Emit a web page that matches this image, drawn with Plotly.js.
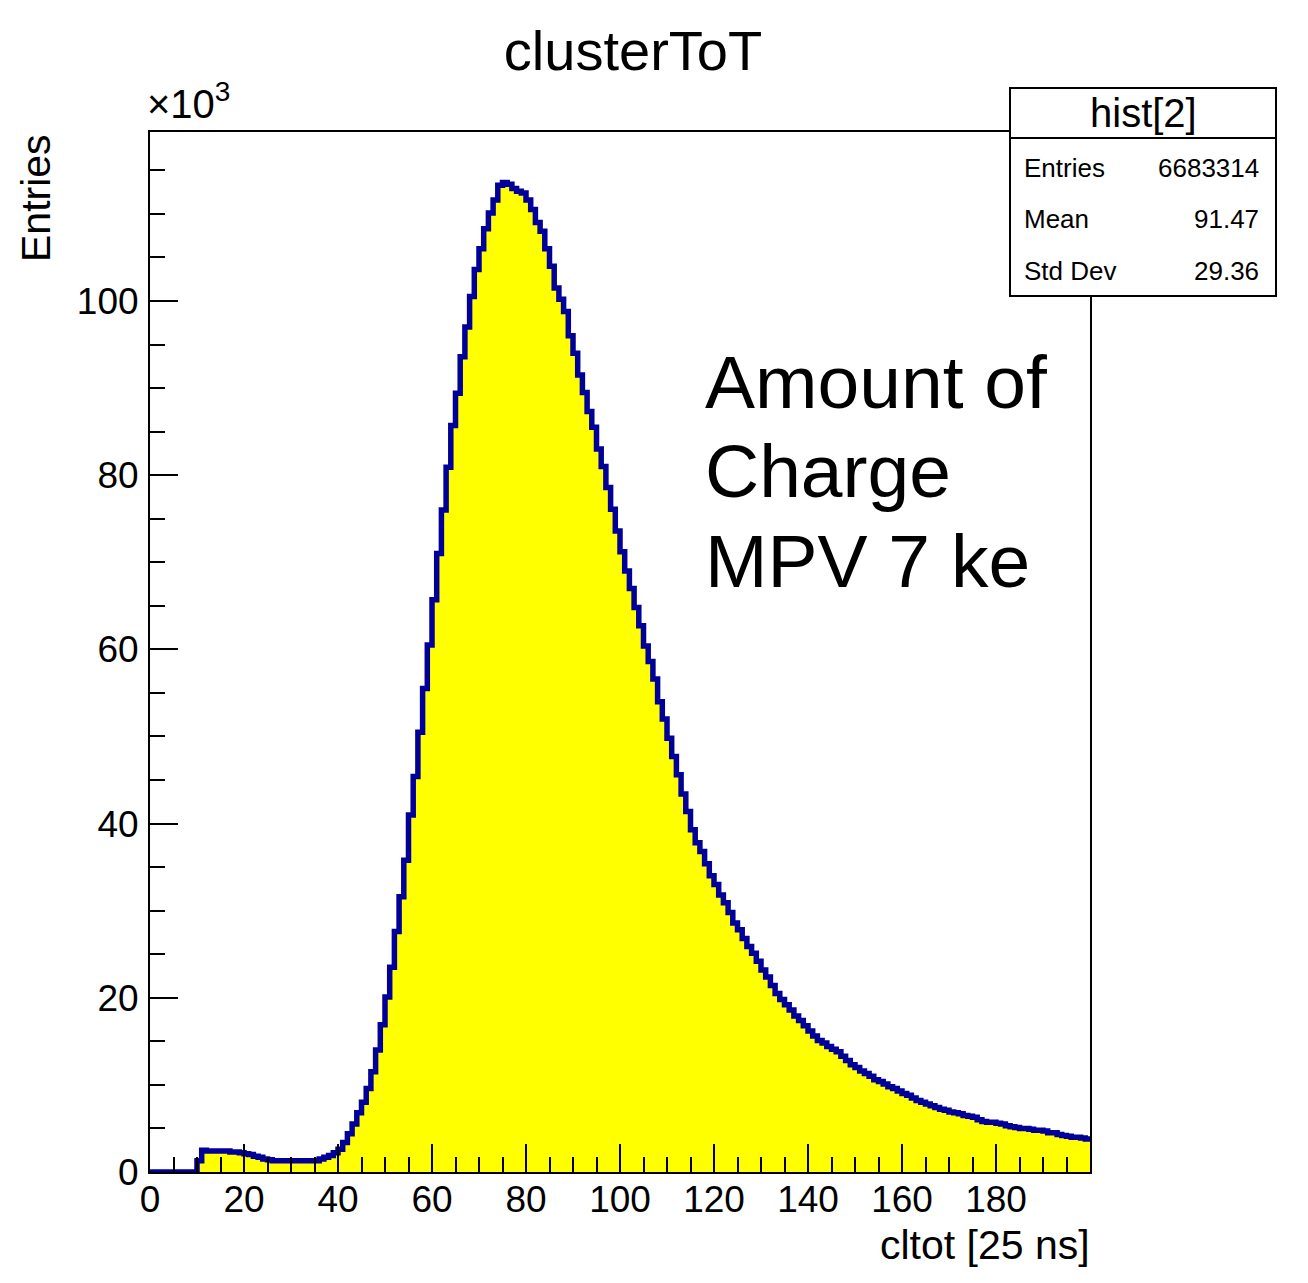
<!DOCTYPE html>
<html>
<head>
<meta charset="utf-8">
<script src="https://cdn.plot.ly/plotly-3.0.1.min.js"></script>
<style>html,body{margin:0;padding:0;background:#fff;}#chart{width:1308px;height:1283px;}</style>
</head>
<body>
<div id="chart"></div>
<script>
// Bin contents of cltot histogram, bins of width 1 from 0 to 200, in units of 10^3 entries
const binLowEdge = 0;
const binWidth = 1;
const countsK = [
  0, 0, 0, 0, 0, 0, 0, 0, 0, 0,
  1.3, 2.5, 2.4, 2.4, 2.4, 2.4, 2.4, 2.3, 2.3, 2.2,
  2.1, 2.0, 1.8, 1.7, 1.5, 1.4, 1.3, 1.3, 1.3, 1.3,
  1.3, 1.3, 1.3, 1.3, 1.3, 1.3, 1.5, 1.7, 1.9, 2.2,
  2.6, 3.4, 4.4, 5.5, 6.8, 8.0, 9.6, 11.5, 14.0, 16.9,
  20.1, 23.5, 27.6, 31.6, 35.8, 41.0, 45.4, 50.5, 55.5, 60.5,
  65.7, 71.0, 76.0, 80.9, 85.7, 89.4, 93.6, 97.0, 100.5, 103.6,
  106.0, 108.3, 110.1, 111.6, 113.3, 113.6, 113.4, 112.9, 112.6, 112.4,
  111.6, 110.5, 109.0, 108.0, 106.0, 104.0, 101.5, 100.2, 98.8, 96.0,
  94.0, 91.5, 89.5, 87.3, 85.5, 83.0, 81.0, 78.6, 76.1, 73.6,
  71.2, 69.0, 67.0, 64.8, 62.7, 60.4, 58.6, 56.6, 54.0, 52.0,
  49.8, 47.7, 45.6, 43.4, 41.4, 39.3, 37.8, 36.8, 35.4, 34.0,
  33.0, 31.8, 30.9, 29.8, 28.6, 27.8, 26.8, 25.9, 25.1, 24.2,
  23.2, 22.4, 21.4, 20.5, 19.8, 19.2, 18.6, 17.9, 17.4, 16.8,
  16.2, 15.6, 15.1, 14.8, 14.4, 14.1, 13.8, 13.3, 12.8, 12.3,
  12.0, 11.6, 11.3, 11.0, 10.6, 10.4, 10.1, 9.8, 9.6, 9.3,
  9.0, 8.8, 8.5, 8.2, 8.0, 7.8, 7.6, 7.4, 7.2, 7.1,
  6.9, 6.8, 6.7, 6.5, 6.4, 6.3, 6.0, 5.8, 5.7, 5.7,
  5.6, 5.5, 5.3, 5.2, 5.1, 5.0, 5.0, 4.9, 4.8, 4.8,
  4.7, 4.5, 4.5, 4.3, 4.2, 4.1, 4.0, 4.0, 3.9, 3.8
];
const xTickVals = [0, 20, 40, 60, 80, 100, 120, 140, 160, 180];
const yTickVals = [0, 20, 40, 60, 80, 100];
const statsNames = ["Entries", "Mean", "Std Dev"];
const statsValues = ["6683314", "91.47", "29.36"];
const histName = "hist[2]";
const noteLines = ["Amount of", "Charge", "MPV 7 ke"];

// build step outline from bin edges
const xs = [], ys = [];
countsK.forEach((v, i) => { xs.push(binLowEdge + i * binWidth); ys.push(v); });
xs.push(binLowEdge + countsK.length * binWidth); ys.push(countsK[countsK.length - 1]);

const FONT = '"Liberation Sans", Arial, Helvetica, sans-serif';
const W = 1308, H = 1283;
const L = 150, R = 1090, T = 132, B = 1172;
const px = x => (x - L) / (R - L);
const py = y => (B - y) / (B - T);

const trace = {
  type: 'scatter', mode: 'lines', x: xs, y: ys,
  line: {shape: 'hv', color: '#000099', width: 5.5},
  fill: 'tozeroy', fillcolor: '#ffff00', hoverinfo: 'skip'
};

const annotations = [
  {text: '×10<sup>3</sup>', xref: 'paper', yref: 'paper', x: px(145), y: py(128), xanchor: 'left', yanchor: 'bottom', showarrow: false, font: {family: FONT, size: 40, color: '#000'}},
  {text: 'Entries', xref: 'paper', yref: 'paper', x: px(36), y: py(132), xanchor: 'center', yanchor: 'top', textangle: -90, showarrow: false, font: {family: FONT, size: 41, color: '#000'}},
  {text: 'cltot [25 ns]', xref: 'paper', yref: 'paper', x: px(1092), y: py(1245), xanchor: 'right', yanchor: 'middle', showarrow: false, font: {family: FONT, size: 41, color: '#000'}},
  {text: histName, xref: 'paper', yref: 'paper', x: px(1143), y: py(113), xanchor: 'center', yanchor: 'middle', showarrow: false, font: {family: FONT, size: 40, color: '#000'}}
];
const rowY = [168, 219, 271];
statsNames.forEach((n, i) => {
  annotations.push({text: n, xref: 'paper', yref: 'paper', x: px(1022), y: py(rowY[i]), xanchor: 'left', yanchor: 'middle', showarrow: false, font: {family: FONT, size: 26, color: '#000'}});
  annotations.push({text: statsValues[i], xref: 'paper', yref: 'paper', x: px(1261), y: py(rowY[i]), xanchor: 'right', yanchor: 'middle', showarrow: false, font: {family: FONT, size: 26, color: '#000'}});
});
const noteY = [382, 471, 561];
noteLines.forEach((t, i) => {
  annotations.push({text: t, xref: 'paper', yref: 'paper', x: px(703), y: py(noteY[i]), xanchor: 'left', yanchor: 'middle', showarrow: false, font: {family: FONT, size: 75, color: '#000'}});
});

const shapes = [
  {type: 'rect', xref: 'paper', yref: 'paper', x0: px(1010), x1: px(1276), y0: py(296), y1: py(88), fillcolor: '#fff', line: {color: '#000', width: 2}, layer: 'above'},
  {type: 'line', xref: 'paper', yref: 'paper', x0: px(1010), x1: px(1276), y0: py(138), y1: py(138), line: {color: '#000', width: 2}, layer: 'above'}
];

const layout = {
  width: W, height: H,
  margin: {l: L, r: W - R, t: T, b: H - B, pad: 0},
  paper_bgcolor: '#fff', plot_bgcolor: '#fff',
  showlegend: false,
  title: {text: 'clusterToT', x: 633 / W, xref: 'container', xanchor: 'center', y: 1 - 50 / H, yref: 'container', yanchor: 'middle', font: {family: FONT, size: 56, color: '#000'}},
  xaxis: {
    range: [0, 200], tickmode: 'array', tickvals: xTickVals, ticktext: xTickVals.map(String),
    ticks: 'inside', ticklen: 28, tickwidth: 2, tickcolor: '#000',
    minor: {ticks: 'inside', ticklen: 15, tickwidth: 2, tickcolor: '#000', dtick: 5, tick0: 0, showgrid: false},
    showgrid: false, zeroline: false, showline: true, linecolor: '#000', linewidth: 2, mirror: true,
    tickfont: {family: FONT, size: 37, color: '#000'}, ticklabelstandoff: -6, fixedrange: true
  },
  yaxis: {
    range: [0, 119.4], tickmode: 'array', tickvals: yTickVals, ticktext: yTickVals.map(String),
    ticks: 'inside', ticklen: 28, tickwidth: 2, tickcolor: '#000',
    minor: {ticks: 'inside', ticklen: 15, tickwidth: 2, tickcolor: '#000', dtick: 5, tick0: 0, showgrid: false},
    showgrid: false, zeroline: false, showline: true, linecolor: '#000', linewidth: 2, mirror: true,
    tickfont: {family: FONT, size: 37, color: '#000'}, ticklabelstandoff: 2, fixedrange: true
  },
  annotations: annotations,
  shapes: shapes
};

Plotly.newPlot('chart', [trace], layout, {displayModeBar: false, staticPlot: true});
</script>
</body>
</html>
